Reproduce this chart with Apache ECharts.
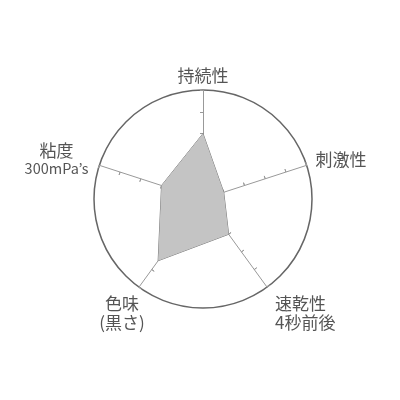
<!DOCTYPE html>
<html>
<head>
<meta charset="utf-8">
<script src="https://cdn.jsdelivr.net/npm/echarts@6/dist/echarts.min.js"></script>
<style>
  html, body { margin: 0; padding: 0; background: #fff; }
  #chart { width: 400px; height: 400px; }
</style>
</head>
<body>
<div id="chart"></div>
<script>
// 指標 (上から反時計回り)
var indicatorNames = ['持続性', '粘度', '色味', '速乾性', '刺激性'];
var indicatorSubs = ['', '300mPa\u2019s', '(黒さ)', '4秒前後', ''];
var maxValue = 5;
var values = [3, 2, 3.5, 2, 1];

var indicators = indicatorNames.map(function (n) {
  return { name: n, max: maxValue };
});

var clear = 'rgba(0,0,0,0)';
var FONT = 'Noto Sans CJK JP';
var TXT = '#555';

var radarBase = {
  indicator: indicators,
  shape: 'circle',
  center: [203, 199],
  radius: 109,
  startAngle: 90,
  splitNumber: 5,
  nameGap: 5,
  splitArea: { show: false }
};

// ラベル1つだけを描く radar (位置は nameGap と padding で調整)
function labelRadar(idx, gap, padding, align, subSize) {
  return Object.assign({}, radarBase, {
    nameGap: gap,
    axisLine: { show: false },
    axisTick: { show: false },
    splitLine: { show: false },
    axisName: {
      color: TXT,
      fontFamily: FONT,
      fontSize: 17,
      padding: padding,
      formatter: function (name) {
        var i = indicatorNames.indexOf(name);
        if (i !== idx) return '';
        var s = '{a|' + name + '}';
        if (indicatorSubs[i]) s += '\n{b|' + indicatorSubs[i] + '}';
        return s;
      },
      rich: {
        a: { fontSize: 17, color: TXT, fontFamily: FONT, align: align, lineHeight: 19 },
        b: { fontSize: subSize || 17, color: TXT, fontFamily: FONT, align: align, lineHeight: subSize ? 16 : 19 }
      }
    }
  });
}

var option = {
  animation: false,
  radar: [
    Object.assign({}, radarBase, {
      axisName: { show: false },
      axisLine: { lineStyle: { color: '#999', width: 1 } },
      axisTick: { show: true, length: 3, lineStyle: { color: '#999' } },
      splitLine: {
        lineStyle: {
          color: [clear, clear, clear, clear, clear, '#666'],
          width: 1.5
        }
      }
    }),
    Object.assign({}, radarBase, {
      axisName: { show: false },
      axisLine: { show: false },
      splitLine: { show: false },
      axisTick: { show: true, inside: true, length: 3, lineStyle: { color: '#999' } }
    }),
    labelRadar(0, 5, [0, 0, 0, 0], 'center'),
    labelRadar(1, 5, [0, 6, 10, 0], 'center', 14.5),
    labelRadar(2, -10, [68, 0, 0, 0], 'center'),
    labelRadar(3, 5, [44, 0, 0, 5], 'left'),
    labelRadar(4, 5, [0, 0, 8, 4], 'left')
  ],
  series: [{
    type: 'radar',
    radarIndex: 0,
    symbol: 'none',
    lineStyle: { color: '#777', width: 1 },
    areaStyle: { color: '#c4c4c4', opacity: 1 },
    data: [{ value: values }]
  }]
};

var chart = echarts.init(document.getElementById('chart'));
chart.setOption(option);
</script>
</body>
</html>
